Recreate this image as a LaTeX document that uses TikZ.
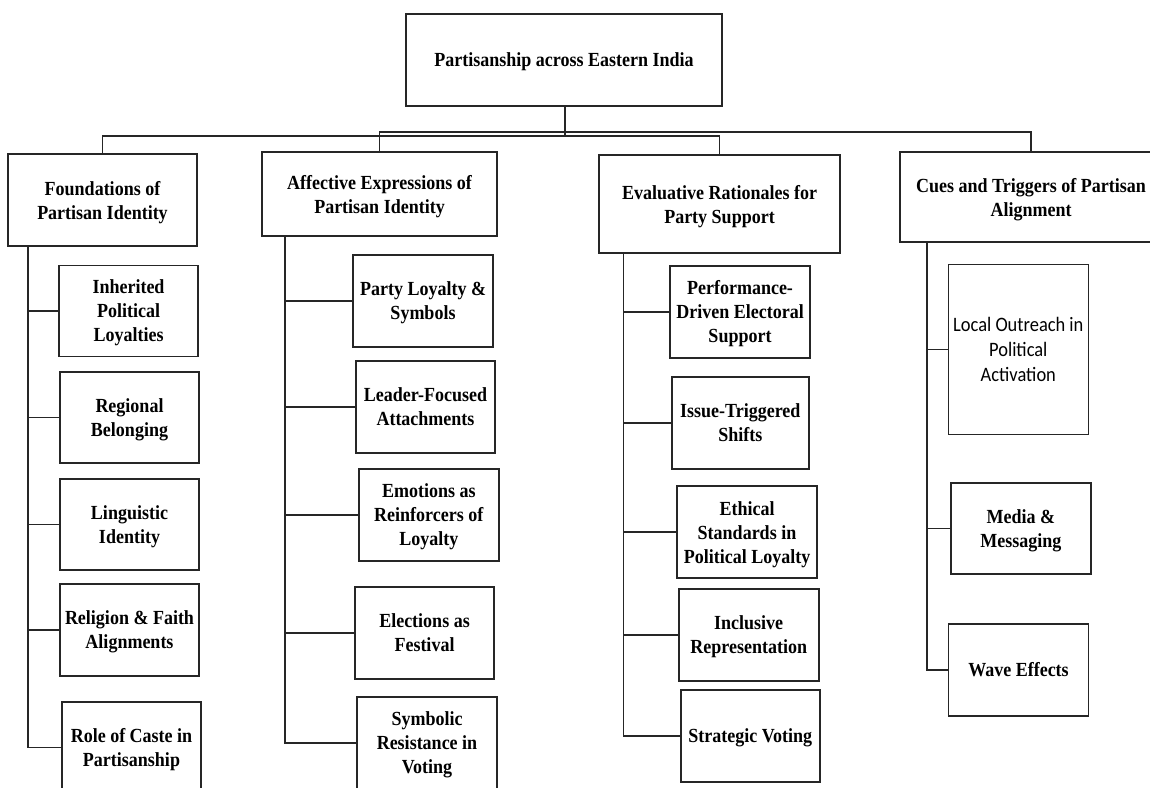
\documentclass[tikz,border=0pt]{standalone}
\usepackage{fontspec}
\setmainfont[FakeStretch=0.9]{Liberation Serif}
\newfontfamily\calib[FakeStretch=0.9]{Carlito}
\begin{document}
\begin{tikzpicture}[x=1pt,y=-1pt,
  box/.style={draw=black!85, line width=1.6pt, align=center, inner sep=0pt,
    text depth=0pt, font=\bfseries\fontsize{20}{24}\selectfont},
  conn/.style={draw=black!85, line width=1.6pt}]
\useasboundingbox (0,0) rectangle (1150,787);
\fill[white] (0,0) rectangle (1150,787);
% root and level 1
\node[box, minimum width=316, minimum height=92] (root) at (564,60) {Partisanship across Eastern India};
\node[box, minimum width=189, minimum height=92] (found) at (102.5,200) {Foundations of\\Partisan Identity};
\node[box, minimum width=235, minimum height=84] (affect) at (379.5,194) {Affective Expressions of\\Partisan Identity};
\node[box, minimum width=241, minimum height=98] (eval) at (719.5,204) {Evaluative Rationales for\\Party Support};
\node[box, minimum width=262, minimum height=90] (cues) at (1031,197) {Cues and Triggers of Partisan\\Alignment};
% foundations children
\node[box, minimum width=139, minimum height=91] (f1) at (128.5,311) {Inherited\\Political\\Loyalties};
\node[box, minimum width=139, minimum height=91] (f2) at (129.5,417.3) {Regional\\Belonging};
\node[box, minimum width=139, minimum height=91] (f3) at (129.5,524.5) {Linguistic\\Identity};
\node[box, minimum width=139, minimum height=92] (f4) at (129.5,630) {Religion \& Faith\\Alignments};
\node[box, minimum width=139, minimum height=91] (f5) at (131.5,747.5) {Role of Caste in\\Partisanship};
% affective children
\node[box, minimum width=140, minimum height=92] (a1) at (423,301) {Party Loyalty \&\\Symbols};
\node[box, minimum width=139, minimum height=92] (a2) at (425.5,406.7) {Leader-Focused\\Attachments};
\node[box, minimum width=140, minimum height=92] (a3) at (428.8,514.8) {Emotions as\\Reinforcers of\\Loyalty};
\node[box, minimum width=139, minimum height=92] (a4) at (424.5,633) {Elections as\\Festival};
\node[box, minimum width=140, minimum height=92] (a5) at (427,743) {Symbolic\\Resistance in\\Voting};
% evaluative children
\node[box, minimum width=140, minimum height=92] (e1) at (740,311.8) {Performance-\\Driven Electoral\\Support};
\node[box, minimum width=137, minimum height=92] (e2) at (740.3,422.7) {Issue-Triggered\\Shifts};
\node[box, minimum width=140, minimum height=92] (e3) at (747,532.2) {Ethical\\Standards in\\Political Loyalty};
\node[box, minimum width=140, minimum height=92] (e4) at (748.7,634.8) {Inclusive\\Representation};
\node[box, minimum width=139, minimum height=92] (e5) at (750.3,735.8) {Strategic Voting};
% cues children
\node[box, minimum width=140, minimum height=170, font=\calib\fontsize{20.5}{25}\selectfont] (c1) at (1018.3,349.5) {Local Outreach in\\Political\\Activation};
\node[box, minimum width=140, minimum height=91] (c2) at (1020.8,528.5) {Media \&\\Messaging};
\node[box, minimum width=140, minimum height=92] (c3) at (1018.5,669.8) {Wave Effects};
% bus
\coordinate (busA) at (565,136);
\coordinate (busB) at (565,132);
\draw[conn] (root.south -| busA) -- (busA);
\draw[conn] (found.north) |- (busA) -| (eval.north);
\draw[conn] (affect.north) |- (busB) -| (cues.north);
% column spines
\coordinate (fl) at (27.7,0);
\coordinate (al) at (285,0);
\coordinate (el) at (623.3,0);
\coordinate (cl) at (926.7,0);
\draw[conn] (found.south -| fl) |- (f5.west);
\foreach \n in {f1,f2,f3,f4} \draw[conn] (fl |- \n.west) -- (\n.west);
\draw[conn] (affect.south -| al) |- (a5.west);
\foreach \n in {a1,a2,a3,a4} \draw[conn] (al |- \n.west) -- (\n.west);
\draw[conn] (eval.south -| el) |- (e5.west);
\foreach \n in {e1,e2,e3,e4} \draw[conn] (el |- \n.west) -- (\n.west);
\draw[conn] (cues.south -| cl) |- (c3.west);
\foreach \n in {c1,c2} \draw[conn] (cl |- \n.west) -- (\n.west);
\end{tikzpicture}
\end{document}
